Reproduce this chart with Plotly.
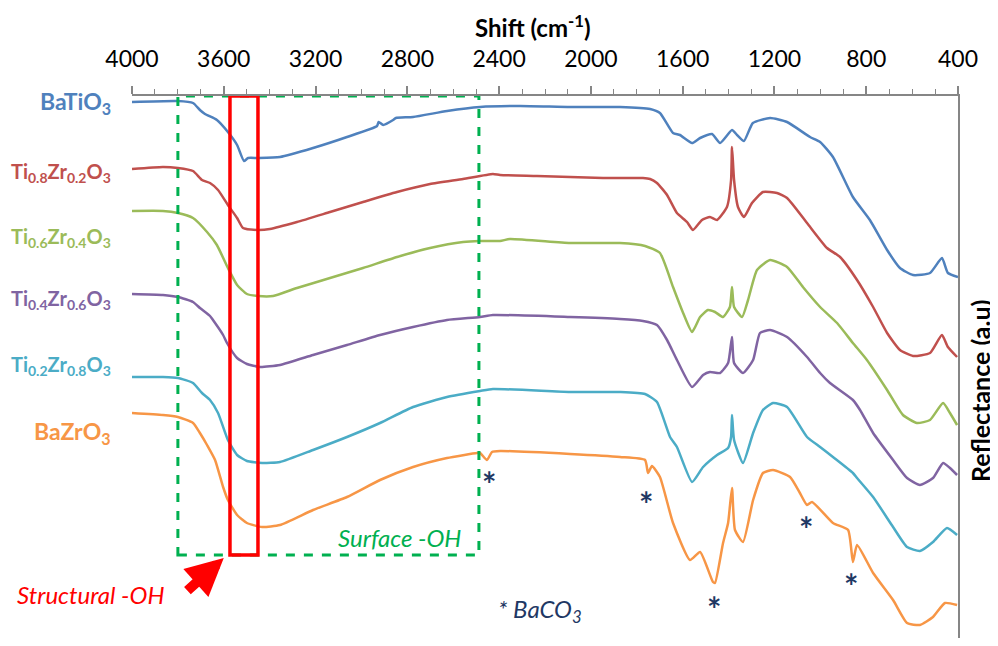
import plotly.graph_objects as go

# ---------------- data (wavenumber cm-1, reflectance a.u.) ----------------
names = ["BaTiO<sub>3</sub>",
         "Ti<sub>0.8</sub>Zr<sub>0.2</sub>O<sub>3</sub>",
         "Ti<sub>0.6</sub>Zr<sub>0.4</sub>O<sub>3</sub>",
         "Ti<sub>0.4</sub>Zr<sub>0.6</sub>O<sub>3</sub>",
         "Ti<sub>0.2</sub>Zr<sub>0.8</sub>O<sub>3</sub>",
         "BaZrO<sub>3</sub>"]
colors = ["#4F81BD", "#C0504D", "#9BBB59", "#8064A2", "#4BACC6", "#F79646"]

bto_x = [4000, 3800, 3734, 3704, 3682, 3630, 3582, 3542, 3512, 3494, 3451, 3355, 3211, 3063, 2932,
         2925, 2905, 2862, 2850, 2775, 2627, 2483, 2309, 2091, 1873, 1742, 1699, 1642, 1612, 1559,
         1524, 1472, 1437, 1385, 1363, 1333, 1294, 1219, 1145, 1045, 1001, 945, 858, 784, 709, 653,
         596, 522, 470, 444, 400]
bto_y = [544, 545, 543, 536, 532, 526, 514, 501, 485, 488, 488, 489, 498, 509, 520,
         524, 521, 526, 528, 529, 535, 539, 540, 539, 539, 537, 533, 513, 511, 503,
         508, 512, 503, 516, 511, 505, 523, 528, 524, 509, 504, 489, 449, 426, 396, 378,
         371, 373, 388, 373, 369]

z2_x = [4000, 3865, 3800, 3734, 3695, 3660, 3625, 3582, 3542, 3516, 3451, 3399, 3281, 3137, 2993,
        2845, 2701, 2557, 2427, 2396, 2235, 1947, 1773, 1742, 1712, 1668, 1625, 1581, 1555, 1516,
        1481, 1450, 1407, 1389, 1385, 1376, 1359, 1333, 1298, 1250, 1189, 1145, 1058, 971, 914,
        840, 770, 709, 653, 596, 522, 470, 444, 404]
z2_y = [477, 479, 478, 475, 466, 463, 456, 441, 428, 418, 416, 417, 424, 434, 444,
        454, 462, 467, 472, 471, 470, 468, 468, 467, 463, 451, 433, 424, 416, 426,
        429, 426, 439, 466, 499, 466, 439, 429, 443, 454, 453, 448, 423, 398, 389,
        366, 339, 313, 296, 290, 293, 311, 299, 289]

z4_x = [4000, 3865, 3800, 3734, 3673, 3630, 3582, 3542, 3499, 3451, 3385, 3281, 3137, 2993, 2845,
        2701, 2557, 2483, 2396, 2353, 2091, 1873, 1764, 1699, 1642, 1598, 1559, 1524, 1490, 1459,
        1424, 1394, 1385, 1376, 1341, 1315, 1276, 1219, 1145, 1076, 1001, 927, 858, 797, 709,
        640, 579, 522, 465, 435, 404]
z4_y = [435, 435, 433, 428, 414, 401, 378, 361, 352, 350, 350, 358, 368, 378, 389,
        398, 404, 405, 405, 407, 403, 403, 400, 393, 359, 333, 314, 329, 336, 334,
        329, 339, 359, 339, 329, 346, 376, 386, 379, 359, 339, 323, 303, 286, 256,
        231, 223, 226, 243, 233, 221]

z6_x = [4000, 3865, 3800, 3734, 3704, 3660, 3647, 3603, 3586, 3542, 3499, 3442, 3355, 3211, 3063,
        2919, 2775, 2627, 2483, 2427, 2091, 1873, 1773, 1712, 1668, 1625, 1559, 1511, 1481, 1437,
        1402, 1385, 1376, 1337, 1293, 1263, 1219, 1145, 1058, 1001, 958, 858, 827, 770, 683,
        622, 566, 509, 465, 435, 404]
z6_y = [352, 351, 349, 344, 338, 330, 326, 311, 303, 288, 282, 279, 281, 291, 301,
        311, 319, 326, 329, 331, 329, 327, 325, 321, 306, 286, 259, 271, 274, 273,
        283, 309, 283, 273, 286, 313, 316, 309, 289, 273, 263, 246, 236, 213, 186,
        168, 161, 168, 183, 178, 171]

z8_x = [4000, 3865, 3800, 3734, 3695, 3660, 3625, 3582, 3542, 3499, 3433, 3355, 3211, 3063, 2919,
        2775, 2627, 2483, 2427, 2091, 1873, 1764, 1712, 1655, 1625, 1559, 1511, 1450, 1402, 1389,
        1385, 1376, 1337, 1293, 1250, 1206, 1145, 1058, 1001, 945, 858, 840, 770, 683, 622,
        566, 509, 448, 404]
z8_y = [269, 269, 268, 263, 253, 246, 233, 206, 191, 185, 183, 184, 196, 209, 223,
        239, 249, 255, 257, 254, 254, 252, 244, 209, 199, 164, 179, 191, 198, 209,
        231, 206, 183, 213, 236, 243, 239, 209, 199, 189, 173, 168, 149, 119, 99,
        95, 104, 118, 111]

bzo_x = [4000, 3865, 3800, 3734, 3704, 3673, 3638, 3603, 3582, 3542, 3499, 3433, 3355, 3211, 3063,
         2919, 2775, 2627, 2496, 2483, 2453, 2431, 2396, 2091, 1873, 1764, 1751, 1734, 1699, 1642,
         1568, 1524, 1468, 1459, 1424, 1402, 1385, 1372, 1337, 1293, 1250, 1206, 1132, 1089, 1058,
         1036, 945, 879, 858, 840, 770, 683, 622, 566, 509, 457, 404]
bzo_y = [233, 231, 229, 223, 213, 201, 186, 159, 146, 131, 123, 119, 121, 136, 149,
         166, 179, 188, 193, 193, 186, 194, 195, 192, 189, 186, 173, 180, 169, 123,
         86, 94, 64, 63, 103, 123, 158, 116, 104, 146, 173, 176, 169, 153, 141,
         144, 123, 116, 84, 101, 73, 46, 23, 21, 29, 43, 41]

series_x = [bto_x, z2_x, z4_x, z6_x, z8_x, bzo_x]
series_y = [bto_y, z2_y, z4_y, z6_y, z8_y, bzo_y]
label_y = [544, 474, 409, 347, 281, 214]
label_size = [23, 20, 20, 20, 20, 23]

# BaCO3 marks (wavenumber, height)
baco3_x = [2444, 1760, 1463, 1063, 866]
baco3_y = [163, 143, 38, 118, 61]

x_ticks = [4000, 3600, 3200, 2800, 2400, 2000, 1600, 1200, 800, 400]

FONT = "Lato, 'Open Sans', Arial, sans-serif"
NAVY = "#1F3864"

fig = go.Figure()
for nm, xs, ys, c in zip(names, series_x, series_y, colors):
    fig.add_trace(go.Scatter(x=xs, y=ys, mode="lines", name=nm,
                             line=dict(color=c, width=2.5, shape="spline", smoothing=0.5),
                             showlegend=False, hoverinfo="skip"))

# highlight boxes
fig.add_shape(type="rect", xref="x", yref="y", x0=3800, x1=2488, y0=91, y1=550,
              line=dict(color="#00B050", width=3, dash="dash"), layer="above")
fig.add_shape(type="rect", xref="x", yref="y", x0=3573, x1=3451, y0=91, y1=550,
              line=dict(color="#FF0000", width=3.5), layer="above")

annotations = []
for nm, ly, c, fs in zip(names, label_y, colors, label_size):
    annotations.append(dict(x=-0.023, xref="paper", y=ly, yref="y", text="<b>%s</b>" % nm,
                            showarrow=False, xanchor="right", yanchor="middle",
                            font=dict(family=FONT, size=fs, color=c)))
for bx, by in zip(baco3_x, baco3_y):
    annotations.append(dict(x=bx, y=by, xref="x", yref="y", text="<b>*</b>", showarrow=False,
                            xanchor="center", yanchor="middle",
                            font=dict(family=FONT, size=34, color=NAVY)))
annotations.append(dict(x=2222, y=36, xref="x", yref="y", text="<i>* BaCO<sub>3</sub></i>",
                        showarrow=False, xanchor="center", yanchor="middle",
                        font=dict(family=FONT, size=24, color=NAVY)))
annotations.append(dict(x=2832, y=109, xref="x", yref="y", text="<i>Surface -OH</i>",
                        showarrow=False, xanchor="center", yanchor="middle",
                        font=dict(family=FONT, size=24, color="#00B050")))
annotations.append(dict(x=-0.0508, xref="paper", y=52, yref="y", text="<i>Structural -OH</i>",
                        showarrow=False, xanchor="center", yanchor="middle",
                        font=dict(family=FONT, size=24, color="#FF0000")))
annotations.append(dict(x=3600, y=88, xref="x", yref="y", ax=3765, ay=54, axref="x", ayref="y",
                        text="", showarrow=True, arrowhead=2, arrowsize=0.75, arrowwidth=10,
                        arrowcolor="#FF0000", standoff=0))
# axis titles
annotations.append(dict(x=0.4855, xref="paper", y=1.13, yref="paper",
                        text="<b>Shift (cm<sup>-1</sup>)</b>", showarrow=False,
                        xanchor="center", yanchor="middle",
                        font=dict(family=FONT, size=24, color="black")))
annotations.append(dict(x=1.0266, xref="paper", y=255, yref="y",
                        text="<b>Reflectance (a.u)</b>", showarrow=False, textangle=-90,
                        xanchor="center", yanchor="middle",
                        font=dict(family=FONT, size=25, color="black")))

fig.update_layout(
    width=990, height=630,
    margin=dict(l=124, r=40, t=88, b=0),
    paper_bgcolor="white", plot_bgcolor="white",
    font=dict(family=FONT, size=16, color="black"),
    annotations=annotations,
    xaxis=dict(range=[4000, 400], side="top", tickmode="array", tickvals=x_ticks,
               ticktext=[str(v) for v in x_ticks],
               showgrid=False, zeroline=False, showline=True, linecolor="#868686", linewidth=1.5,
               ticks="outside", ticklen=8, tickwidth=1.5, tickcolor="#868686",
               ticklabelstandoff=10,
               minor=dict(dtick=100, tick0=0, ticks="outside", ticklen=5, tickwidth=1.2,
                          tickcolor="#868686", showgrid=False),
               tickfont=dict(family=FONT, size=23, color="black"),
               automargin=False),
    yaxis=dict(range=[8, 550], side="right", showgrid=False, zeroline=False, showline=True,
               linecolor="#868686", linewidth=1.5, ticks="", showticklabels=False,
               automargin=False),
)

fig.write_html("out.html")
